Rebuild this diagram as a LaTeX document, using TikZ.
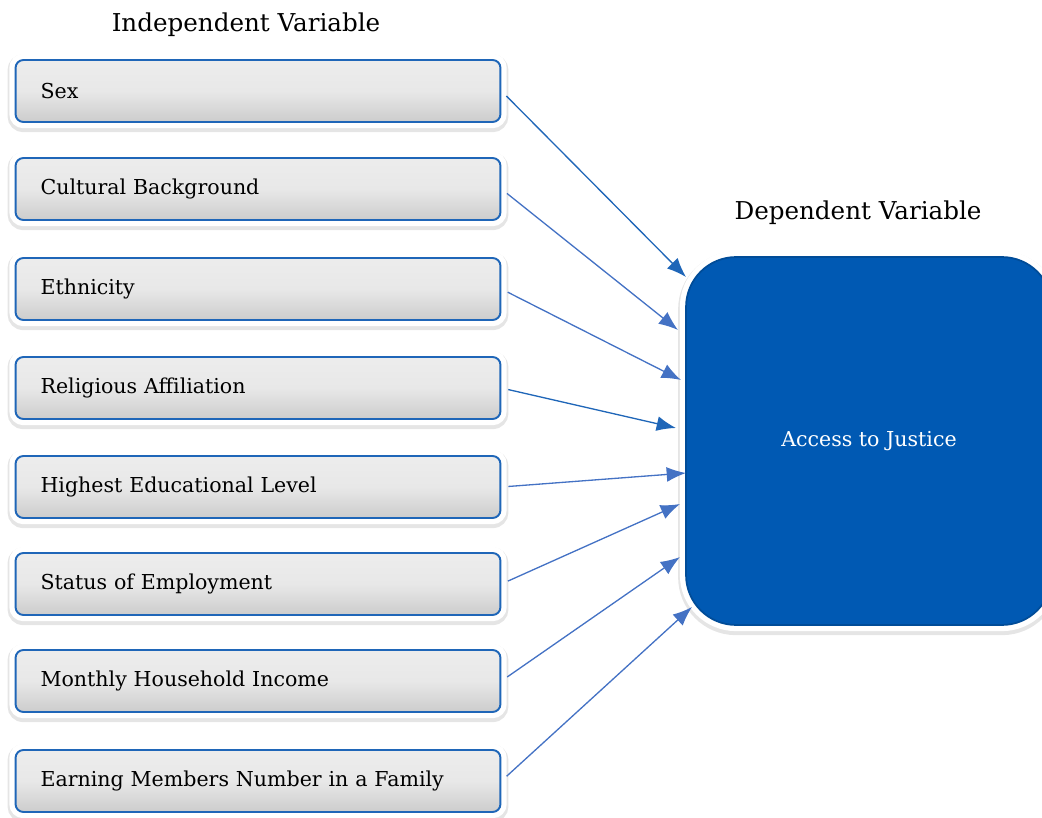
\documentclass[tikz,border=0pt]{standalone}
\usepackage{fontspec}
\setmainfont{DejaVu Serif}
\usepackage{tikz}
\usetikzlibrary{arrows.meta}

\definecolor{varblue}{HTML}{1F66B8}
\definecolor{vargray}{HTML}{E8E8E8}
\definecolor{justblue}{HTML}{0059B3}
\definecolor{linkblue}{HTML}{4472C4}

\begin{document}
\begin{tikzpicture}[x=0.02cm,y=-0.02cm,
    halo/.style={preaction={draw=black!10, line width=9pt, transform canvas={yshift=-1.3pt}},
                 preaction={draw=white, line width=7pt}},
    var/.style={halo, rounded corners=4.5pt, draw=varblue, line width=1.1pt,
                top color=vargray!80!white, bottom color=vargray!88!black, middle color=vargray,
                text width=8.7cm, inner xsep=0.5cm, minimum height=1.24cm, align=left,
                font=\fontsize{11.7}{14}\selectfont},
    title/.style={font=\fontsize{14}{17}\selectfont},
    link/.style={draw=linkblue, line width=0.75pt, shorten <=4pt,
                 -{Latex[length=11pt,width=8.5pt]}}]
  \useasboundingbox (0,0) rectangle (1042,818);
  \clip (0,0) rectangle (1042,818);

  \node[title] (indep) at (246,25) {Independent Variable};
  \node[title] (dep) at (858,213) {Dependent Variable};

  % independent variables, top to bottom
  \node[var] (sex)    at (258,91)  {Sex};
  \node[var] (cult)   at (258,189) {Cultural Background};
  \node[var] (ethn)   at (258,289) {Ethnicity};
  \node[var] (relig)  at (258,388) {Religious Affiliation};
  \node[var] (educ)   at (258,487) {Highest Educational Level};
  \node[var] (employ) at (258,584) {Status of Employment};
  \node[var] (income) at (258,681) {Monthly Household Income};
  \node[var] (earn)   at (258,781) {Earning Members Number in a Family};

  % dependent variable
  \node[halo, draw=justblue!85!black, line width=1pt, fill=justblue, rounded corners=1cm,
        minimum width=7.32cm, minimum height=7.36cm, text=white,
        font=\fontsize{11.7}{14}\selectfont] (justice) at (869,441) {Access to Justice};

  % arrow heads on the left side of the big box
  \coordinate (in1) at (686,277);
  \coordinate (in2) at (678,330);
  \coordinate (in3) at (681,380);
  \coordinate (in4) at (676,428);
  \coordinate (in5) at (686,473);
  \coordinate (in6) at (680,504);
  \coordinate (in7) at (680,557);
  \coordinate (in8) at (692,607);

  \draw[link, draw=varblue] (sex.east) -- (in1);
  \draw[link] (cult.east) -- (in2);
  \draw[link] (ethn.east) -- (in3);
  \draw[link, draw=varblue] (relig.east) -- (in4);
  \draw[link] (educ.east) -- (in5);
  \draw[link] (employ.east) -- (in6);
  \draw[link] (income.east) -- (in7);
  \draw[link] (earn.east) -- (in8);
\end{tikzpicture}
\end{document}
